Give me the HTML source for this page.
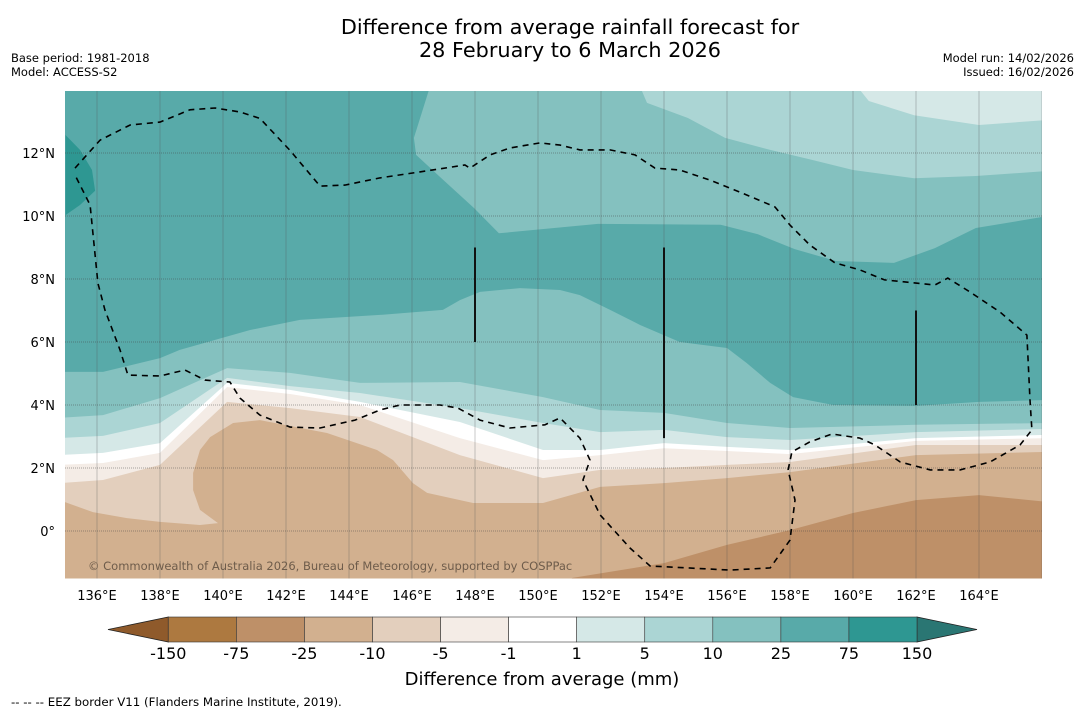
<!DOCTYPE html>
<html><head><meta charset="utf-8">
<style>
html,body{margin:0;padding:0;background:#fff;}
svg{display:block;font-family:"DejaVu Sans","Liberation Sans",sans-serif;}
</style></head>
<body>
<svg id="chart" width="1085" height="713" viewBox="0 0 1085 713" xmlns="http://www.w3.org/2000/svg">
<rect width="1085" height="713" fill="#fff"/>
<text x="570" y="34" text-anchor="middle" font-size="20.8" fill="#000">Difference from average rainfall forecast for</text>
<text x="570" y="57" text-anchor="middle" font-size="20.8" fill="#000">28 February to 6 March 2026</text>
<text x="11" y="62" font-size="11.5">Base period: 1981-2018</text>
<text x="11" y="76" font-size="11.5">Model: ACCESS-S2</text>
<text x="1074" y="62" font-size="11.5" text-anchor="end">Model run: 14/02/2026</text>
<text x="1074" y="76" font-size="11.5" text-anchor="end">Issued: 16/02/2026</text>
<defs><clipPath id="mapclip"><rect x="65" y="91" width="977" height="487.5"/></clipPath></defs>
<g id="map" clip-path="url(#mapclip)"></g>
<g id="axes"></g>
<g id="cbar"></g>
<text x="542" y="685" text-anchor="middle" font-size="18">Difference from average (mm)</text>
<text x="11" y="706" font-size="11.8">--  --  -- EEZ border V11 (Flanders Marine Institute, 2019).</text>
</svg>
<script>
// ---- data ----
const lonTicks = [136,138,140,142,144,146,148,150,152,154,156,158,160,162,164];
const latTicks = [0,2,4,6,8,10,12];
const cbarLabels = ["-150","-75","-25","-10","-5","-1","1","5","10","25","75","150"];
const cbarColors = ["#ad7940","#be9068","#d2b08f","#e3cfbd","#f4ece6","#ffffff","#d5e8e7","#abd5d4","#84c1bf","#58aaa9","#2e9792"];
// contour boundaries [lon, lat]
const blob75 = [[135,12.57],[135.46,12.1],[135.84,11.46],[135.94,10.8],[135.46,10.35],[135,10.03]];
const north10 = [[146.6,14.2],[146.06,12.48],[146.13,11.94],[146.92,11.21],[147.97,10.25],[148.76,9.45],[151.9,9.75],[155.8,9.72],[156.98,9.42],[158.15,8.95],[159.46,8.57],[161.3,8.51],[162.6,8.98],[163.9,9.62],[166.2,10.0],[166.2,14.2]];
const north5 = [[153.2,14.2],[153.46,13.59],[154.76,13.11],[155.94,12.48],[157.37,12.1],[158.7,11.78],[160,11.46],[161.94,11.2],[163.9,11.27],[166.2,11.43],[166.2,14.2]];
const north1 = [[160.06,14.2],[160.5,13.65],[161.94,13.2],[164,12.89],[166.2,13.05],[166.2,14.2]];
const lineA = [[134.8,5.05],[136.19,5.05],[138,5.49],[138.63,5.75],[140.86,6.38],[142.44,6.7],[144.98,6.86],[146.98,7.02],[147.52,7.33],[148.16,7.59],[149.43,7.71],[150.7,7.65],[151.33,7.49],[152.29,7.02],[153.24,6.54],[154.5,6.0],[156,5.81],[156.63,5.33],[157.37,4.7],[158.1,4.25],[159.37,4.0],[162,3.97],[164,4.1],[166.2,4.16]];
const lineB = [[134.8,3.59],[136.19,3.68],[138,4.22],[140.13,5.17],[142.13,5.02],[144.35,4.7],[147.52,4.73],[150.16,4.25],[151.97,3.84],[154,3.75],[156,3.43],[158,3.27],[162,3.37],[166.2,3.43]];
const lineC = [[134.8,2.95],[136.19,3.02],[138,3.43],[140.13,4.86],[142.13,4.6],[144.35,4.38],[147.52,3.9],[150.16,3.43],[151.97,3.14],[154,3.21],[156,2.98],[158,2.89],[162,3.14],[166.2,3.24]];
const lineD = [[134.8,2.41],[136.19,2.48],[138,2.79],[140.13,4.7],[142.13,4.48],[144.35,4.1],[147.52,3.46],[150.16,2.57],[151.97,2.57],[154,2.79],[156,2.67],[158,2.57],[162,2.95],[166.2,3.05]];
const lineE = [[134.8,2.1],[136.19,2.16],[138,2.48],[140.13,4.57],[142.13,4.35],[144.35,4.0],[147.52,2.95],[150.16,2.25],[151.97,2.41],[154,2.63],[156,2.54],[158,2.44],[162,2.86],[166.2,2.95]];
const lineF = [[134.8,1.52],[136.19,1.62],[138,2.1],[140.13,4.1],[142.13,3.9],[144.35,3.62],[147.52,2.41],[150.16,1.68],[151.97,1.94],[154,2.0],[156,2.1],[158,2.19],[162,2.73],[166.2,2.73]];
const lineG = [[134.8,0.98],[135.87,0.6],[136.95,0.41],[138,0.29],[139.27,0.19],[139.84,0.25],[139.27,0.67],[139.05,1.3],[139.05,1.84],[139.27,2.57],[139.59,2.98],[140.32,3.43],[141.17,3.52],[143.3,3.11],[144.89,2.57],[145.4,2.25],[146.03,1.52],[146.48,1.21],[147.94,0.89],[150.16,0.89],[151.97,1.4],[154,1.52],[156,1.68],[158,1.87],[162,2.41],[166.2,2.51]];
const lineH = [[150.7,-1.7],[151.1,-1.49],[154,-1.02],[156,-0.44],[158,0.03],[160,0.57],[162,0.98],[164,1.14],[166.2,0.92]];
const eez = [[135.3,11.52],[136.1,12.41],[137.05,12.89],[138.0,12.98],[138.95,13.37],[139.75,13.43],[140.54,13.3],[141.17,13.1],[142.13,12.08],[143.08,10.95],[143.87,10.98],[144.98,11.21],[146.25,11.4],[147.68,11.62],[147.84,11.52],[148.48,11.94],[149.11,12.16],[150.06,12.32],[150.7,12.25],[151.33,12.1],[152.29,12.1],[153.08,11.94],[153.71,11.52],[154.5,11.46],[155.46,11.14],[156.41,10.76],[157.52,10.29],[158.0,9.71],[158.63,9.08],[159.43,8.51],[160.22,8.29],[161.0,7.97],[162.6,7.81],[163.01,8.03],[163.71,7.59],[164.67,6.95],[165.52,6.22],[165.62,4.16],[165.68,3.21],[165.3,2.73],[164.35,2.19],[163.4,1.94],[162.45,1.94],[161.5,2.19],[160.7,2.73],[160.22,2.95],[159.33,3.08],[158.63,2.83],[158.06,2.51],[157.94,1.94],[158.16,0.98],[158.0,-0.29],[157.37,-1.17],[156.1,-1.24],[153.56,-1.11],[152.92,-0.54],[151.97,0.51],[151.43,1.62],[151.65,2.25],[151.33,2.95],[150.7,3.59],[150.22,3.37],[149.11,3.27],[148.16,3.52],[147.46,3.9],[146.89,4.0],[145.62,4.0],[144.98,3.84],[144.19,3.52],[143.08,3.27],[142.13,3.3],[141.17,3.68],[140.54,4.22],[140.22,4.73],[139.43,4.79],[138.79,5.11],[138.0,4.92],[136.98,4.95],[136.73,5.75],[136.25,7.02],[136.03,7.87],[135.94,8.76],[135.78,10.35],[135.3,11.3]];
const solidLines = [[148,9,6],[154,9,2.95],[162,7,4]];

// ---- axes ----
const X0=65.5, Y0=531, K=31.5;
function xs(lon){return X0+(lon-135)*K;}
function ys(lat){return Y0-lat*K;}
const NS="http://www.w3.org/2000/svg";
function mk(tag,attrs,parent){const e=document.createElementNS(NS,tag);for(const k in attrs)e.setAttribute(k,attrs[k]);parent.appendChild(e);return e;}
function pts(arr){return arr.map(p=>xs(p[0]).toFixed(1)+","+ys(p[1]).toFixed(1)).join(" ");}
function belowPoly(arr){const first=arr[0],last=arr[arr.length-1];return pts(arr)+" "+xs(last[0]).toFixed(1)+","+ys(-3)+" "+xs(first[0]).toFixed(1)+","+ys(-3);}

const map=document.getElementById('map');
let e=mk('rect',{x:60,y:85,width:990,height:500,fill:cbarColors[9]},map);


const bands=[
 [blob75,cbarColors[10],'band-75-150-west',false],
 [north10,cbarColors[8],'band-10-25-north',false],
 [north5,cbarColors[7],'band-5-10-north',false],
 [north1,cbarColors[6],'band-1-5-north',false],
 [lineA,cbarColors[8],'band-10-25',true],
 [lineB,cbarColors[7],'band-5-10',true],
 [lineC,cbarColors[6],'band-1-5',true],
 [lineD,cbarColors[5],'band-neutral',true],
 [lineE,cbarColors[4],'band-minus-1-5',true],
 [lineF,cbarColors[3],'band-minus-5-10',true],
 [lineG,cbarColors[2],'band-minus-10-25',true],
 [lineH,cbarColors[1],'band-minus-25-75',true]
];
bands.forEach(b=>{
  const p=mk('polygon',{points:b[3]?belowPoly(b[0]):pts(b[0]),fill:b[1]},map);
  
  
});
// gridlines
lonTicks.concat([166]).forEach(l=>{
  const g=mk('line',{x1:xs(l),x2:xs(l),y1:91,y2:579,stroke:'#555','stroke-width':0.7,'stroke-opacity':0.45},map);
  
  
});
latTicks.forEach(l=>{
  const g=mk('line',{x1:65,x2:1042,y1:ys(l),y2:ys(l),stroke:'#444','stroke-width':0.8,'stroke-dasharray':'1,1','stroke-opacity':0.6},map);
  
  
});
e=mk('polyline',{points:pts(eez),fill:'none',stroke:'#000','stroke-width':1.6,'stroke-dasharray':'6,5'},map);


solidLines.forEach(s=>{
  const l=mk('line',{x1:xs(s[0]),x2:xs(s[0]),y1:ys(s[1]),y2:ys(s[2]),stroke:'#111','stroke-width':2},map);
  
  
});
e=mk('text',{x:88,y:570,'font-size':11.5,fill:'#6e5c4b'},map);
e.textContent='© Commonwealth of Australia 2026, Bureau of Meteorology, supported by COSPPac';



const axes=document.getElementById('axes');
lonTicks.forEach(l=>{
  const t=mk('text',{x:xs(l),y:600,'text-anchor':'middle','font-size':13},axes);
  t.textContent=l+'°E';
  
  
});
latTicks.forEach(l=>{
  const t=mk('text',{x:55,y:ys(l)+5,'text-anchor':'end','font-size':13},axes);
  t.textContent=l===0?'0°':l+'°N';
  
  
});

// ---- colorbar ----
const cb=document.getElementById('cbar');
const cx0=168.3, cw=(917-168.3)/cbarColors.length, cy0=617, ch=25;
e=mk('polygon',{points:`${cx0},${cy0} ${cx0},${cy0+ch} 108,${cy0+ch/2}`,fill:'#8f5a2b',stroke:'#222','stroke-width':0.8},cb);


e=mk('polygon',{points:`917,${cy0} 917,${cy0+ch} 977,${cy0+ch/2}`,fill:'#2a7673',stroke:'#222','stroke-width':0.8},cb);


cbarColors.forEach((c,i)=>{
  const r=mk('rect',{x:cx0+i*cw,y:cy0,width:cw,height:ch,fill:c,stroke:'#333','stroke-width':0.6},cb);
  
  
});
cbarLabels.forEach((s,i)=>{
  const t=mk('text',{x:cx0+i*cw,y:659,'text-anchor':'middle','font-size':16},cb);
  t.textContent=s;
  
  
});
</script>
</body></html>
